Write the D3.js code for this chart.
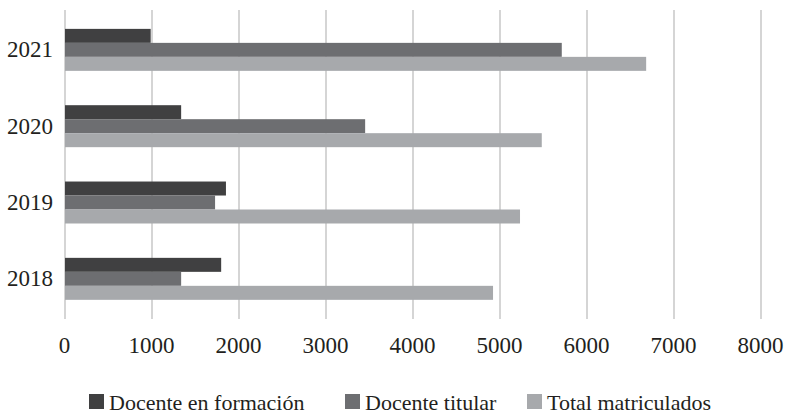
<!DOCTYPE html>
<html>
<head>
<meta charset="utf-8">
<script src="https://cdn.jsdelivr.net/npm/d3@7"></script>
<style>
  html, body { margin: 0; padding: 0; background: #fff; }
  svg { display: block; }
  text { font-family: "Liberation Serif", "Times New Roman", serif; fill: #231f20; }
</style>
</head>
<body>
<svg id="chart" width="788" height="415"></svg>
<script>
// Years, top to bottom
const years = ["2021", "2020", "2019", "2018"];
// Series
const seriesNames = ["Docente en formación", "Docente titular", "Total matriculados"];
const docenteFormacion = [985, 1335, 1850, 1795];
const docenteTitular = [5710, 3450, 1725, 1335];
const totalMatriculados = [6680, 5480, 5230, 4920];
const xTicks = [0, 1000, 2000, 3000, 4000, 5000, 6000, 7000, 8000];
const colors = ["#404041", "#6d6e71", "#a7a9ac"];

const seriesValues = [docenteFormacion, docenteTitular, totalMatriculados];

const svg = d3.select("#chart");

const x = d3.scaleLinear().domain([0, 8000]).range([65, 761]);
const y = d3.scaleBand().domain(years).range([11.7, 317]).paddingInner(0.45).paddingOuter(0.225);
const ySub = d3.scaleBand().domain(seriesNames).range([0, y.bandwidth()]);

// Vertical gridlines
svg.append("g")
  .selectAll("line")
  .data(xTicks)
  .join("line")
  .attr("x1", d => x(d)).attr("x2", d => x(d))
  .attr("y1", 10).attr("y2", 319)
  .attr("stroke", "#bfbfbf")
  .attr("stroke-width", 1.3);

// Bars
const groups = svg.append("g")
  .selectAll("g")
  .data(years)
  .join("g")
  .attr("transform", d => `translate(0,${y(d)})`);

groups.selectAll("rect")
  .data((yr, i) => seriesNames.map((s, k) => ({ s, v: seriesValues[k][i], k })))
  .join("rect")
  .attr("x", x(0))
  .attr("y", d => ySub(d.s))
  .attr("width", d => x(d.v) - x(0))
  .attr("height", ySub.bandwidth())
  .attr("fill", d => colors[d.k]);

// Year labels
const yAxis = d3.axisLeft(y).tickSize(0).tickPadding(0);
const yg = svg.append("g").attr("transform", "translate(53,0)").call(yAxis);
yg.select(".domain").remove();
yg.selectAll("text")
  .attr("font-size", 23)
  .attr("font-family", "Liberation Serif, serif")
  .attr("fill", "#231f20")
  .attr("dy", "0.33em");

// Value axis labels
const xAxis = d3.axisBottom(x).tickValues(xTicks).tickSize(0).tickPadding(0).tickFormat(d3.format("d"));
const xg = svg.append("g").attr("transform", "translate(-1,353)").call(xAxis);
xg.select(".domain").remove();
xg.selectAll("text")
  .attr("font-size", 23)
  .attr("font-family", "Liberation Serif, serif")
  .attr("fill", "#231f20")
  .attr("y", 0)
  .attr("dy", 0);

// Legend
const legendX = [89, 345, 527];
const legend = svg.append("g")
  .selectAll("g")
  .data(seriesNames)
  .join("g")
  .attr("transform", (d, i) => `translate(${legendX[i]},394)`);
legend.append("rect")
  .attr("width", 15).attr("height", 15)
  .attr("fill", (d, i) => colors[i]);
legend.append("text")
  .attr("x", 20).attr("y", 16)
  .attr("font-size", 22)
  .text(d => d);
</script>
</body>
</html>
